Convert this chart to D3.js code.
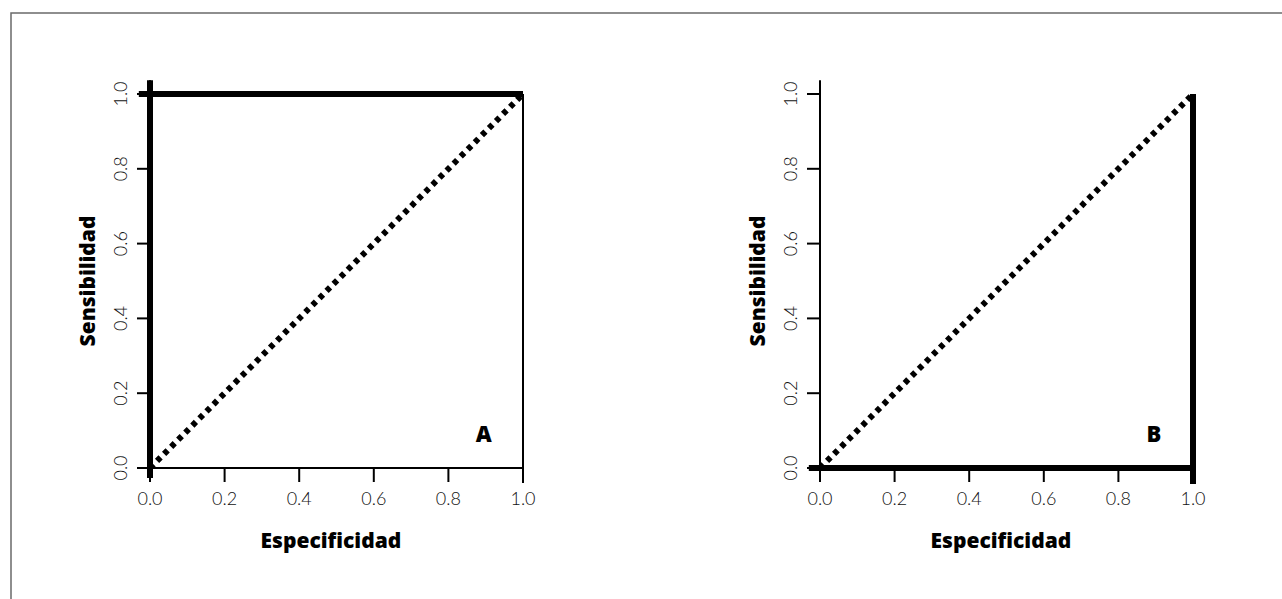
<!DOCTYPE html>
<html>
<head>
<meta charset="utf-8">
<script src="https://cdn.jsdelivr.net/npm/d3@7"></script>
<style>
  body { margin: 0; background: #fff; }
  .tick-label { font-family: Lato, "Open Sans", sans-serif; font-weight: 300; font-size: 18px; fill: #111; }
  .axis-title { font-family: "Open Sans", Lato, sans-serif; font-weight: 800; font-size: 21px; fill: #000; }
</style>
</head>
<body>
<div id="chart"></div>
<script>
// tick values shared by both axes
var tickValues = [0, 0.2, 0.4, 0.6, 0.8, 1.0];
var panelLabels = ["A", "B"];
var xTitle = "Especificidad";
var yTitle = "Sensibilidad";

// chance line
var diagonal = [[0, 0], [1, 1]];

// ROC curves, as separate segments [x, y]
var curveA = [
  [[0, -0.027], [0, 1.037]],
  [[-0.03, 1], [1, 1]]
];
var curveB = [
  [[-0.03, 0], [1, 0]],
  [[1, -0.043], [1, 1]]
];
var curves = [curveA, curveB];

// frame lines common to both panels
var frameLines = [
  [[-0.03, 0], [1, 0]],
  [[1, -0.04], [1, 1]],
  [[0, -0.028], [0, 1.037]]
];

var svgWidth = 1282;
var svgHeight = 599;

var svg = d3.select("#chart")
  .append("svg")
  .attr("width", svgWidth)
  .attr("height", svgHeight);

// outer border (cut off at right and bottom)
svg.append("rect")
  .attr("x", 11)
  .attr("y", 13)
  .attr("width", 1400)
  .attr("height", 700)
  .attr("fill", "none")
  .attr("stroke", "#6a6a6a")
  .attr("stroke-width", 1.5);

var panelLeft = [150, 820];
var plotW = 373;
var yScale = d3.scaleLinear().domain([0, 1]).range([468, 94]);

panelLabels.forEach(function(lab, i) {
  var xScale = d3.scaleLinear().domain([0, 1]).range([panelLeft[i], panelLeft[i] + plotW]);
  var line = d3.line().x(d => xScale(d[0])).y(d => yScale(d[1]));
  var g = svg.append("g");

  // thin frame lines
  g.selectAll(".frame")
    .data(frameLines)
    .enter()
    .append("path")
    .attr("d", line)
    .attr("fill", "none")
    .attr("stroke", "#000")
    .attr("stroke-width", 2);

  // x ticks
  g.selectAll(".xtick")
    .data(tickValues)
    .enter()
    .append("line")
    .attr("x1", d => xScale(d))
    .attr("x2", d => xScale(d))
    .attr("y1", yScale(0))
    .attr("y2", yScale(0) + 14)
    .attr("stroke", "#000")
    .attr("stroke-width", 2);

  g.selectAll(".xlab")
    .data(tickValues)
    .enter()
    .append("text")
    .attr("class", "tick-label")
    .attr("x", d => xScale(d))
    .attr("y", 505)
    .attr("text-anchor", "middle")
    .text(d => d3.format(".1f")(d));

  // y ticks
  g.selectAll(".ytick")
    .data(tickValues)
    .enter()
    .append("line")
    .attr("x1", xScale(0) - 13)
    .attr("x2", xScale(0))
    .attr("y1", d => yScale(d))
    .attr("y2", d => yScale(d))
    .attr("stroke", "#000")
    .attr("stroke-width", 2);

  g.selectAll(".ylab")
    .data(tickValues)
    .enter()
    .append("text")
    .attr("class", "tick-label")
    .attr("transform", d => `translate(${xScale(0) - 23}, ${yScale(d)}) rotate(-90)`)
    .attr("text-anchor", "middle")
    .text(d => d3.format(".1f")(d));

  // diagonal dotted line
  g.append("path")
    .attr("d", line(diagonal))
    .attr("fill", "none")
    .attr("stroke", "#000")
    .attr("stroke-width", 6)
    .attr("stroke-dasharray", "5,5");

  // ROC curve
  g.selectAll(".curve")
    .data(curves[i])
    .enter()
    .append("path")
    .attr("d", line)
    .attr("fill", "none")
    .attr("stroke", "#000")
    .attr("stroke-width", 6);

  // panel letter
  g.append("text")
    .attr("class", "axis-title")
    .style("font-size", "22px")
    .attr("x", xScale(0.895))
    .attr("y", yScale(0.07))
    .attr("text-anchor", "middle")
    .text(lab);

  // axis titles
  g.append("text")
    .attr("class", "axis-title")
    .attr("x", xScale(0.485))
    .attr("y", 548)
    .attr("text-anchor", "middle")
    .text(xTitle);

  g.append("text")
    .attr("class", "axis-title")
    .attr("transform", `translate(${xScale(0) - 55}, ${yScale(0.5)}) rotate(-90)`)
    .attr("text-anchor", "middle")
    .text(yTitle);
});
</script>
</body>
</html>
